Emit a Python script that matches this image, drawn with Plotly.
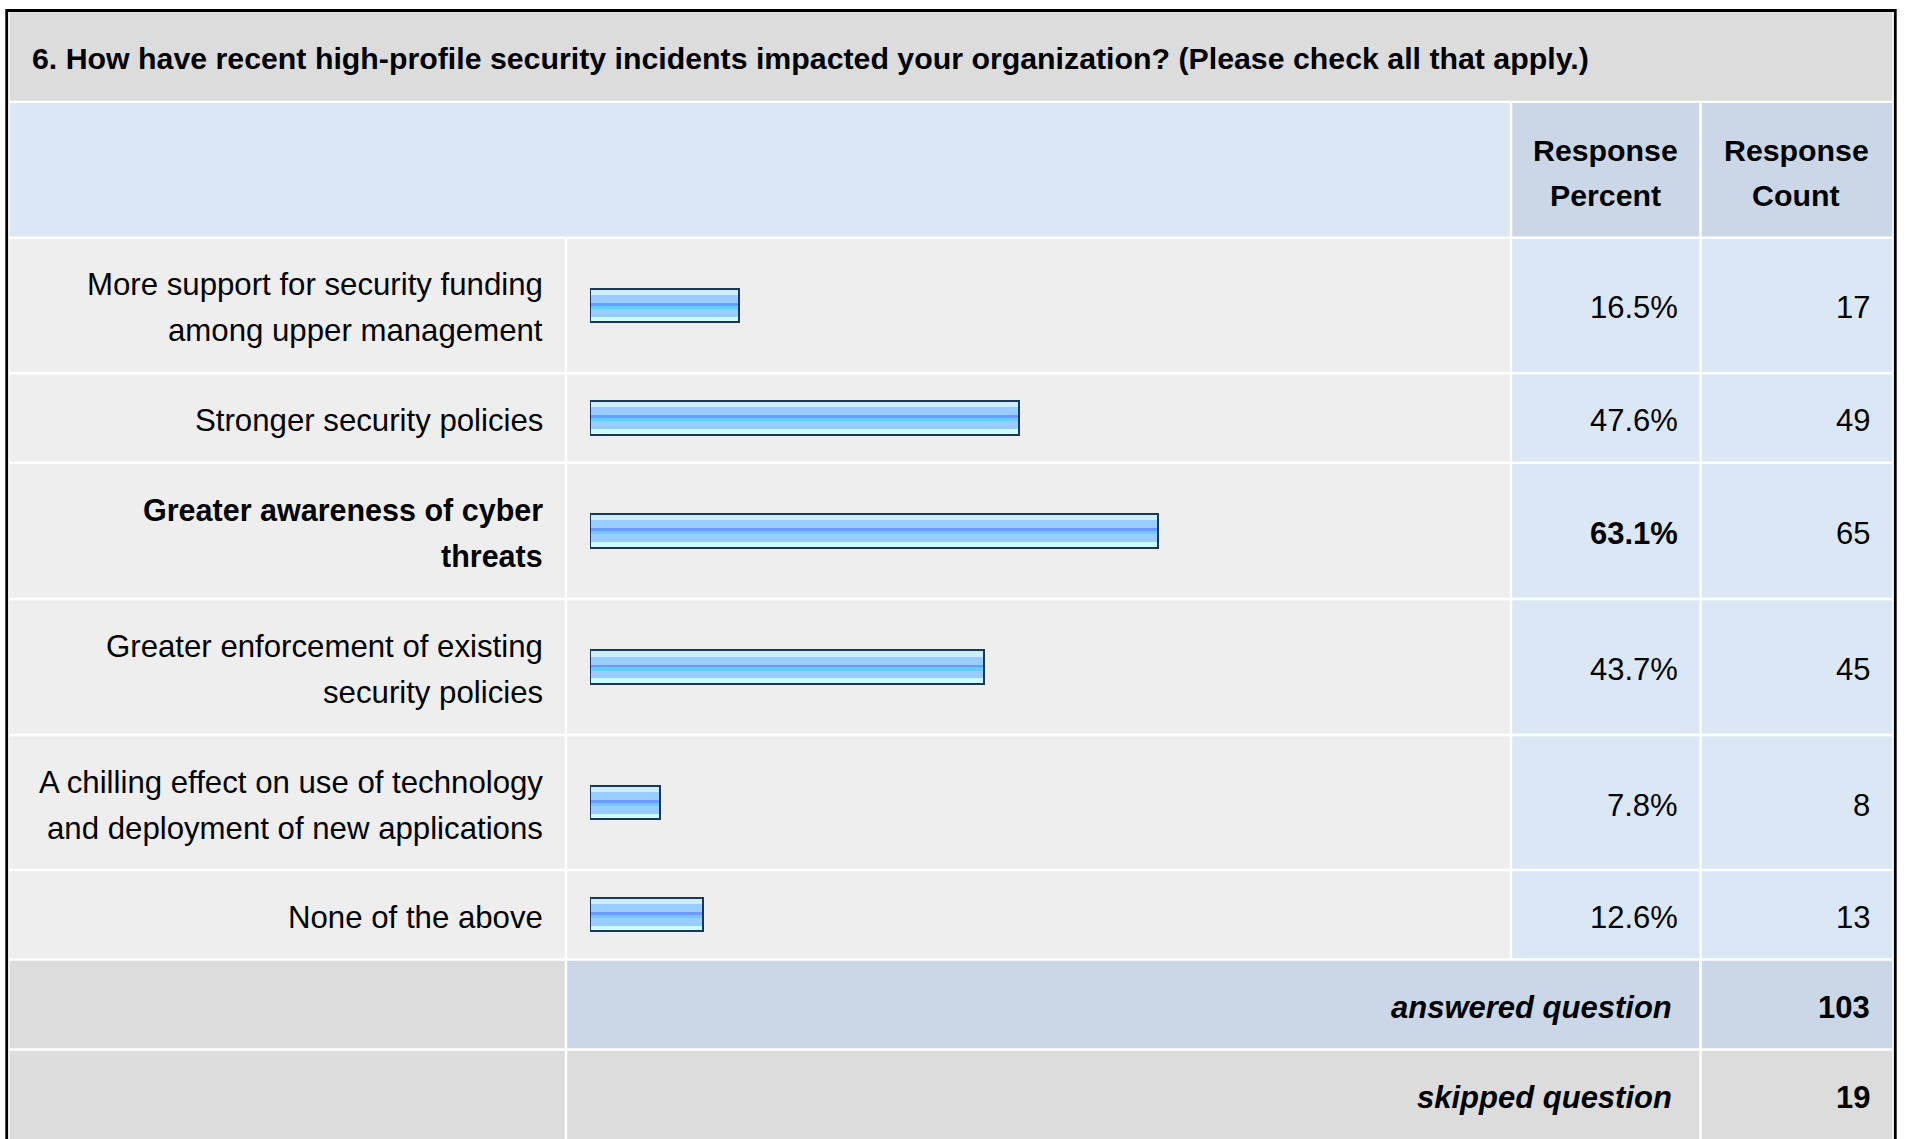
import plotly.graph_objects as go

# ---------------- data ----------------
QUESTION = ("6. How have recent high-profile security incidents impacted your "
            "organization? (Please check all that apply.)")
HEADER_PERCENT = ["Response", "Percent"]
HEADER_COUNT = ["Response", "Count"]
ANSWER_LINES = [
    ["More support for security funding", "among upper management"],
    ["Stronger security policies"],
    ["Greater awareness of cyber", "threats"],
    ["Greater enforcement of existing", "security policies"],
    ["A chilling effect on use of technology", "and deployment of new applications"],
    ["None of the above"],
]
PERCENT = [16.5, 47.6, 63.1, 43.7, 7.8, 12.6]
COUNT = [17, 49, 65, 45, 8, 13]
HIGHLIGHT = [False, False, True, False, False, False]
TOTAL_LABELS = ["answered question", "skipped question"]
TOTAL_VALUES = [103, 19]

# ---------------- layout (pixels) ----------------
W, H = 1907, 1139
FONT = "Liberation Sans, Arial, Helvetica, sans-serif"


def fx(px):
    return px / W


def fy(py):
    return 1 - py / H


L_EDGE, A_COL, P_COL, C_COL, R_EDGE = 9.6, 566.0, 1511.0, 1700.5, 1892.3
TOP, BOTTOM = 12.2, 1160.0
ROW_LINES = [101.9, 237.7, 373.2, 462.7, 599.0, 735.0, 870.0, 959.5, 1049.5]
GAP = 2.4
TOTAL_ROW_H = 88.0

# background colours
C_TITLE = "#dcdcdc"
C_HEAD = "#dce7f5"
C_HEAD2 = "#cbd7e6"
C_ROW = "#eeeeee"
C_VAL = "#dce7f5"
C_TOT = "#cbd7e6"
C_SKIP = "#dcdcdc"

row_bounds = [TOP] + ROW_LINES + [BOTTOM]
row_cells = [
    [(L_EDGE, R_EDGE, C_TITLE)],
    [(L_EDGE, P_COL, C_HEAD), (P_COL, C_COL, C_HEAD2), (C_COL, R_EDGE, C_HEAD2)],
] + [
    [(L_EDGE, A_COL, C_ROW), (A_COL, P_COL, C_ROW), (P_COL, C_COL, C_VAL), (C_COL, R_EDGE, C_VAL)]
    for _ in PERCENT
] + [
    [(L_EDGE, A_COL, C_SKIP), (A_COL, C_COL, C_TOT), (C_COL, R_EDGE, C_TOT)],
    [(L_EDGE, A_COL, C_SKIP), (A_COL, C_COL, C_SKIP), (C_COL, R_EDGE, C_SKIP)],
]

shapes = []
for i, cells in enumerate(row_cells):
    top = row_bounds[i] if i == 0 else row_bounds[i] + GAP / 2
    bot = row_bounds[i + 1] if i == len(row_cells) - 1 else row_bounds[i + 1] - GAP / 2
    for (xl, xr, col) in cells:
        x0 = xl if xl == L_EDGE else xl + GAP / 2
        x1 = xr if xr == R_EDGE else xr - GAP / 2
        shapes.append(dict(type="rect", xref="paper", yref="paper",
                           x0=fx(x0), x1=fx(x1), y0=fy(bot), y1=fy(top),
                           fillcolor=col, line=dict(width=0), layer="below"))

# outer black frame
shapes.append(dict(type="rect", xref="paper", yref="paper",
                   x0=fx(6.7), x1=fx(1895.3), y0=fy(1170), y1=fy(10.5),
                   fillcolor="rgba(0,0,0,0)", line=dict(color="#000000", width=2.8),
                   layer="above"))

# row centres of answer rows (pixels)
centers = [(row_bounds[i + 2] + row_bounds[i + 3]) / 2 for i in range(len(PERCENT))]

annotations = []


def txt(text, x, y, xanchor="right", size=31.2):
    annotations.append(dict(text=text, x=fx(x), y=fy(y), xref="paper", yref="paper",
                            xanchor=xanchor, yanchor="middle", showarrow=False,
                            borderpad=0, borderwidth=0,
                            font=dict(family=FONT, size=size, color="#000000")))


# title
txt("<b>" + QUESTION + "</b>", 32, 58.5, xanchor="left", size=30.3)

# header
head_c = (ROW_LINES[0] + ROW_LINES[1]) / 2 + 3
for j, line in enumerate(HEADER_PERCENT):
    txt("<b>" + line + "</b>", (P_COL + C_COL) / 2, head_c + (j - 0.5) * 45.5,
        xanchor="center", size=30.3)
for j, line in enumerate(HEADER_COUNT):
    txt("<b>" + line + "</b>", (C_COL + R_EDGE) / 2, head_c + (j - 0.5) * 45.5,
        xanchor="center", size=30.3)

LINE_SP = 46.0
for i, lines in enumerate(ANSWER_LINES):
    c = centers[i] + 2.5
    n = len(lines)
    for j, line in enumerate(lines):
        if HIGHLIGHT[i]:
            txt("<b>" + line + "</b>", 542.5, c + (j - (n - 1) / 2) * LINE_SP, size=30.5)
        else:
            txt(line, 542.5, c + (j - (n - 1) / 2) * LINE_SP)
    p = f"{PERCENT[i]:.1f}%"
    txt("<b>" + p + "</b>" if HIGHLIGHT[i] else p, 1678, c, size=31)
    txt(str(COUNT[i]), 1869.5, c, size=31)

for k, (lab, val) in enumerate(zip(TOTAL_LABELS, TOTAL_VALUES)):
    top_line = row_bounds[8 + k]
    c = top_line + TOTAL_ROW_H / 2 + 4
    txt("<b><i>" + lab + "</i></b>", 1672, c, size=31)
    txt("<b>" + str(val) + "</b>", 1869.5, c, size=31)

# ---------------- bars ----------------
BAR_H = 35.5
BAR_TOP = -17.8
STRIPES = [
    (0.0, 7.3, "#cdeeff"),
    (7.3, 15.3, "#99ccff"),
    (15.3, 18.2, "#6a9cff"),
    (18.2, 21.3, "#66ccff"),
    (21.3, 29.0, "#99ccff"),
    (29.0, BAR_H, "#ccffff"),
]

fig = go.Figure()
for (s0, s1, col) in STRIPES:
    fig.add_trace(go.Bar(
        x=PERCENT, y=centers, orientation="h",
        width=[s1 - s0] * len(PERCENT), offset=[BAR_TOP + s0] * len(PERCENT),
        marker=dict(color=col, line=dict(width=0)),
        hoverinfo="skip", showlegend=False))
fig.add_trace(go.Bar(
    x=PERCENT, y=centers, orientation="h",
    width=[BAR_H - 2.0] * len(PERCENT), offset=[BAR_TOP + 1.0] * len(PERCENT),
    marker=dict(color="rgba(0,0,0,0)", line=dict(width=2.0, color="#1d3556")),
    hoverinfo="skip", showlegend=False))

fig.update_layout(
    width=W, height=H,
    margin=dict(l=0, r=0, t=0, b=0, pad=0),
    paper_bgcolor="#ffffff", plot_bgcolor="rgba(0,0,0,0)",
    barmode="overlay", bargap=0,
    xaxis=dict(domain=[fx(590.0), fx(1490.5)], range=[0, 100], visible=False, fixedrange=True),
    yaxis=dict(domain=[0, 1], range=[H, 0], visible=False, fixedrange=True),
    shapes=shapes, annotations=annotations,
    font=dict(family=FONT),
)

fig.write_html("out.html", config={"displayModeBar": False},
               post_script="document.body.style.margin='0';document.body.style.overflow='hidden';")
